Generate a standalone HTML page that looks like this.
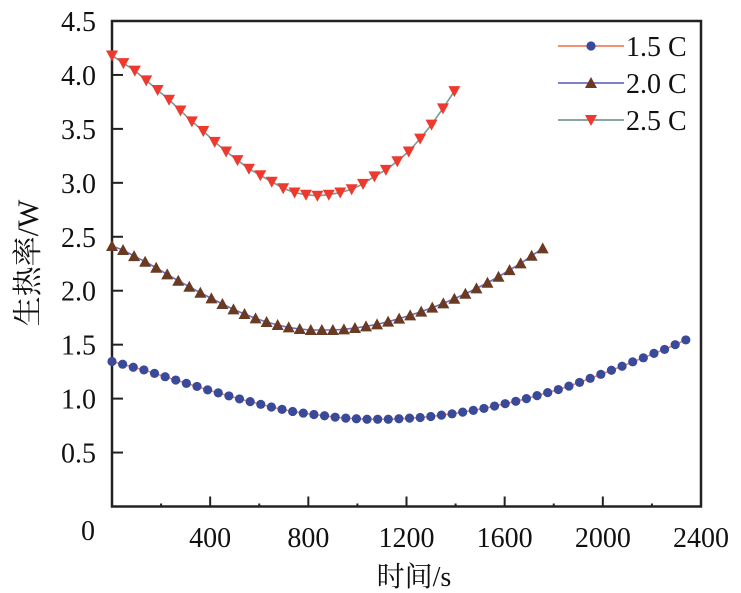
<!DOCTYPE html>
<html><head><meta charset="utf-8"><style>
html,body{margin:0;padding:0;background:#fff;}
svg{display:block;font-family:"Liberation Serif","Noto Serif CJK SC",serif;}
</style></head><body>
<svg id="chart" width="741" height="593" viewBox="0 0 741 593"></svg>
<script>
const xTicks=[400,800,1200,1600,2000,2400];
const yTicks=[0.5,1.0,1.5,2.0,2.5,3.0,3.5,4.0,4.5];
const yTickLabels=["0.5","1.0","1.5","2.0","2.5","3.0","3.5","4.0","4.5"];
const step15=43.3, step20=45, step25=46.5;
const s15=[1.344,1.319,1.291,1.266,1.234,1.203,1.172,1.141,1.113,1.081,1.053,1.025,0.997,0.972,0.947,0.922,0.9,0.881,0.866,0.853,0.841,0.828,0.819,0.813,0.809,0.809,0.809,0.813,0.819,0.825,0.834,0.847,0.859,0.875,0.891,0.909,0.931,0.953,0.975,1.0,1.028,1.056,1.084,1.116,1.15,1.188,1.225,1.263,1.3,1.341,1.378,1.419,1.456,1.5,1.544];
const s20=[2.414,2.377,2.321,2.269,2.213,2.151,2.093,2.037,1.981,1.929,1.877,1.827,1.784,1.744,1.71,1.682,1.66,1.645,1.636,1.636,1.636,1.642,1.654,1.67,1.688,1.713,1.741,1.772,1.806,1.843,1.883,1.926,1.972,2.022,2.074,2.13,2.191,2.253,2.324,2.392];
const s25=[4.18,4.11,4.04,3.95,3.86,3.77,3.67,3.57,3.48,3.38,3.29,3.21,3.13,3.07,3.01,2.95,2.91,2.89,2.88,2.89,2.91,2.94,2.99,3.06,3.12,3.2,3.29,3.41,3.54,3.69,3.85];

const L=112,R=701,T=21,B=506.5;
const X=t=>L+(t/2400)*(R-L);
const Y=v=>B-(v/4.5)*(B-T);
const NS="http://www.w3.org/2000/svg";
const svg=document.getElementById('chart');
function mk(tag,attrs,parent){const e=document.createElementNS(NS,tag);for(const k in attrs)e.setAttribute(k,attrs[k]);(parent||svg).appendChild(e);return e;}

const frame=mk('rect',{x:L,y:T,width:R-L,height:B-T,fill:'none',stroke:'#222','stroke-width':2.5});



for(let t=200;t<2400;t+=200){
  const major=t%400===0;
  const tk=mk('line',{x1:X(t),x2:X(t),y1:B,y2:B-(major?10:3),stroke:'#222','stroke-width':2});
  
  
}
xTicks.forEach(t=>{
  const tx=mk('text',{x:X(t),y:547,'font-size':28,'text-anchor':'middle',fill:'#111'});
  tx.textContent=String(t);
  
  
});
const zero=mk('text',{x:88,y:540,'font-size':28,'text-anchor':'middle',fill:'#111'});
zero.textContent='0';



yTicks.forEach((v,i)=>{
  const tk=mk('line',{x1:L,x2:L+11,y1:Y(v),y2:Y(v),stroke:'#222','stroke-width':2});
  
  
  const tx=mk('text',{x:96,y:Y(v)+10,'font-size':28,'text-anchor':'end',fill:'#111'});
  tx.textContent=yTickLabels[i];
  
  
});

const xt=mk('text',{x:414,y:586,'font-size':28,'text-anchor':'middle',fill:'#111'});
xt.textContent='时间/s';


const yt=mk('text',{x:0,y:0,'font-size':30,'text-anchor':'middle',fill:'#111',transform:'translate(38,263) rotate(-90)'});
yt.textContent='生热率/W';



function marker(type,cx,cy,parent){
  if(type==='circle') return mk('circle',{cx:cx,cy:cy,r:4.6,fill:'#3a4a9a'},parent);
  if(type==='up') return mk('polygon',{points:`${cx},${cy-6} ${cx-6},${cy+5} ${cx+6},${cy+5}`,fill:'#6b3a22'},parent);
  return mk('polygon',{points:`${cx-6},${cy-5} ${cx+6},${cy-5} ${cx},${cy+6}`,fill:'#ee3a2e'},parent);
}
function series(vals,step,line,type,name){
  const g=mk('g',{});
  
  
  const pts=vals.map((v,i)=>X(i*step)+','+Y(v)).join(' ');
  const pl=mk('polyline',{points:pts,fill:'none',stroke:line,'stroke-width':1.6},g);
  
  
  vals.forEach((v,i)=>{
    const m=marker(type,X(i*step),Y(v),g);
    
    
  });
}
series(s25,step25,'#7a9a96','down','series-2-5c');
series(s20,step20,'#6a6fc0','up','series-2-0c');
series(s15,step15,'#f08060','circle','series-1-5c');

const legend=[['1.5 C','#f08060','circle',46],['2.0 C','#6a6fc0','up',83],['2.5 C','#7a9a96','down',120]];
legend.forEach(([lab,col,type,y])=>{
  const g=mk('g',{});
  
  
  mk('line',{x1:558,x2:624,y1:y,y2:y,stroke:col,'stroke-width':1.8},g);
  marker(type,591,y,g);
  const t=mk('text',{x:626,y:y+10,'font-size':28,fill:'#111'},g);
  t.textContent=lab;
});
</script>
</body></html>
